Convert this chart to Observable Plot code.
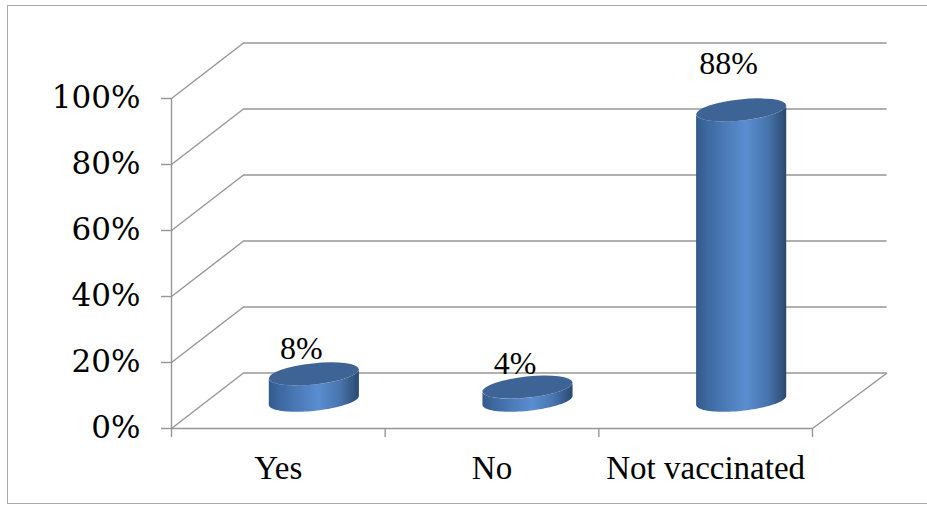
<!DOCTYPE html>
<html>
<head>
<meta charset="utf-8">
<script src="https://cdn.jsdelivr.net/npm/d3@7"></script>
<script src="https://cdn.jsdelivr.net/npm/@observablehq/plot@0.6"></script>
<style>
  html, body { margin: 0; padding: 0; background: #fff; overflow: hidden; }
  #chart { position: relative; width: 927px; height: 506px; }
  #chart svg { position: absolute; left: 0; top: 0; }
  #border {
    position: absolute; left: 7px; top: 5px; width: 940px; height: 499px;
    border: 1.5px solid #a9a9a9; box-sizing: border-box; pointer-events: none;
  }
</style>
</head>
<body>
<div id="chart"></div>
<script>
// Vaccination status shares
const categories = ["Yes", "No", "Not vaccinated"];
const shares = [0.08, 0.04, 0.88];
const shareLabels = ["8%", "4%", "88%"];
const yTicks = [0, 0.2, 0.4, 0.6, 0.8, 1];
const yTickLabels = ["0%", "20%", "40%", "60%", "80%", "100%"];

const bars = categories.map((category, index) => ({
  category, index, share: shares[index], label: shareLabels[index]
}));

// Oblique 3-D projection, expressed in data units of the x and y scales
const DEPTH_X = 0.337;     // back wall shift to the right
const DEPTH_Y = 0.168;     // back wall shift upward
const BACK_EXTRA = 0.012;  // slight perspective widening of the back wall
const LABEL_SCALE = 1.082; // labels sit on a slightly steeper plane
const TILT = -6;           // tilt of the cylinder ellipses, degrees
const grid = "#969696";
const n = categories.length;

// Cylinders drawn through the plot's own x and y scales
function cylinders(index, scales) {
  const {x, y} = scales;
  const g = d3.create("svg:g");
  const grad = g.append("defs").append("linearGradient")
    .attr("id", "cyl-body").attr("x1", 0).attr("x2", 1).attr("y1", 0).attr("y2", 0);
  [[0, "#325a8b"], [0.12, "#3d68a0"], [0.55, "#5a8ed1"], [0.8, "#4773ab"], [1, "#2b4970"]]
    .forEach(([o, c]) => grad.append("stop").attr("offset", o).attr("stop-color", c));

  const a = x(0.212) - x(0);
  const b = y(0) - y(0.032);
  const th = TILT * Math.PI / 180;
  const pt = (cx, cy, t) => [
    cx + a * Math.cos(t) * Math.cos(th) - b * Math.sin(t) * Math.sin(th),
    cy + a * Math.cos(t) * Math.sin(th) + b * Math.sin(t) * Math.cos(th)
  ];
  const tr = Math.atan2(-b * Math.sin(th), a * Math.cos(th));

  for (const d of bars) {
    const cx = x(d.index + 0.5 + DEPTH_X / 2);
    const cyBase = y(DEPTH_Y / 2);
    const cyTop = y(d.share + DEPTH_Y / 2);
    const pts = [];
    for (let k = 0; k <= 48; ++k) pts.push(pt(cx, cyTop, tr + Math.PI * k / 48));
    for (let k = 0; k <= 48; ++k) pts.push(pt(cx, cyBase, tr + Math.PI - Math.PI * k / 48));
    g.append("path")
      .attr("d", "M" + pts.map(p => p.join(",")).join("L") + "Z")
      .attr("fill", "url(#cyl-body)");
    g.append("ellipse")
      .attr("cx", cx).attr("cy", cyTop).attr("rx", a).attr("ry", b)
      .attr("transform", `rotate(${TILT} ${cx} ${cyTop})`)
      .attr("fill", "#3e6495");
  }
  return g.node();
}

const chart = Plot.plot({
  width: 927,
  height: 506,
  marginLeft: 171,
  marginRight: 115,
  marginTop: 98,
  marginBottom: 78,
  style: {background: "transparent"},
  x: {domain: [0, n], axis: null},
  y: {domain: [0, 1], axis: null},
  marks: [
    // back wall gridlines
    Plot.ruleY(yTicks, {
      y: d => d + DEPTH_Y, x1: DEPTH_X, x2: n + DEPTH_X + BACK_EXTRA,
      stroke: grid, strokeWidth: 1.4
    }),
    // side wall diagonals
    Plot.link(yTicks, {
      x1: 0, y1: d => d, x2: DEPTH_X, y2: d => d + DEPTH_Y,
      stroke: grid, strokeWidth: 1.4
    }),
    // floor, right edge
    Plot.link([0], {
      x1: n, y1: 0, x2: n + DEPTH_X + BACK_EXTRA, y2: DEPTH_Y,
      stroke: grid, strokeWidth: 1.4
    }),
    // front axes
    Plot.ruleX([0], {y1: 0, y2: 1, stroke: grid, strokeWidth: 1.4}),
    Plot.ruleY([0], {x1: 0, x2: n, stroke: grid, strokeWidth: 1.4}),
    Plot.axisY({
      ticks: yTicks, tickSize: 10, tickPadding: 21,
      tickFormat: d => yTickLabels[yTicks.indexOf(d)],
      stroke: grid, strokeWidth: 1.4, fill: "#000",
      fontSize: 31, fontFamily: "DejaVu Serif", label: null
    }),
    Plot.axisX({
      ticks: d3.range(n + 1), tickSize: 9, tickFormat: () => "",
      stroke: grid, strokeWidth: 1.4, label: null
    }),
    // cylinders
    cylinders,
    // category labels
    Plot.text(bars, {
      x: d => d.index + 0.5, y: 0, text: "category", dy: 39.5,
      fontSize: 33, fontFamily: "Liberation Serif", fill: "#000"
    }),
    // value labels
    Plot.text(bars, {
      x: d => d.index + 0.5, y: d => d.share * LABEL_SCALE, text: "label",
      dx: 23, dy: -50.9,
      fontSize: 32, fontFamily: "Liberation Serif", fill: "#000"
    })
  ]
});

const host = document.getElementById("chart");
host.appendChild(chart);
const border = document.createElement("div");
border.id = "border";
host.appendChild(border);
</script>
</body>
</html>
